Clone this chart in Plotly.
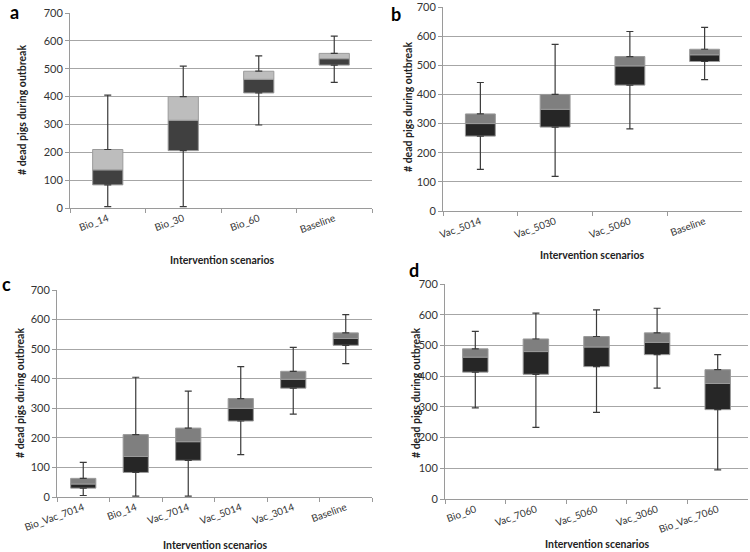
import plotly.graph_objects as go

# ---- data ----
a_cats = ["Bio_14", "Bio_30", "Bio_60", "Baseline"]
a_min = [5, 5, 298, 451]
a_q1 = [83, 206, 413, 513]
a_med = [137, 315, 462, 536]
a_q3 = [210, 400, 491, 555]
a_max = [405, 509, 546, 617]

b_cats = ["Vac_5014", "Vac_5030", "Vac_5060", "Baseline"]
b_min = [143, 119, 282, 451]
b_q1 = [257, 288, 432, 513]
b_med = [300, 349, 498, 536]
b_q3 = [333, 400, 530, 555]
b_max = [441, 572, 616, 630]

c_cats = ["Bio_Vac_7014", "Bio_14", "Vac_7014", "Vac_5014", "Vac_3014", "Baseline"]
c_min = [5, 3, 3, 143, 280, 451]
c_q1 = [30, 83, 124, 257, 368, 513]
c_med = [44, 137, 187, 300, 398, 536]
c_q3 = [63, 211, 233, 333, 425, 555]
c_max = [117, 405, 358, 441, 506, 617]

d_cats = ["Bio_60", "Vac_7060", "Vac_5060", "Vac_3060", "Bio_Vac_7060"]
d_min = [297, 233, 282, 361, 95]
d_q1 = [413, 406, 431, 470, 291]
d_med = [462, 480, 495, 510, 376]
d_q3 = [489, 521, 529, 541, 421]
d_max = [546, 605, 616, 621, 470]

y_ticks = [0, 100, 200, 300, 400, 500, 600, 700]

FONT = "Lato, 'Open Sans', sans-serif"
W, H = 750, 552


def px(sx):
    return sx / W


def py(sy):
    return 1 - sy / H


fig = go.Figure()

panels = [
    dict(cats=a_cats, mn=a_min, q1=a_q1, md=a_med, q3=a_q3, mx=a_max,
         dark="#404040", light="#bdbdbd", width=0.4,
         xd=[px(70), px(372)], yd=[py(208), py(13)]),
    dict(cats=b_cats, mn=b_min, q1=b_q1, md=b_med, q3=b_q3, mx=b_max,
         dark="#262626", light="#7f7f7f", width=0.4,
         xd=[px(443), px(742)], yd=[py(211), py(7)]),
    dict(cats=c_cats, mn=c_min, q1=c_q1, md=c_med, q3=c_q3, mx=c_max,
         dark="#262626", light="#7f7f7f", width=0.48,
         xd=[px(57), px(372)], yd=[py(497), py(290)]),
    dict(cats=d_cats, mn=d_min, q1=d_q1, md=d_med, q3=d_q3, mx=d_max,
         dark="#262626", light="#7f7f7f", width=0.42,
         xd=[px(445), px(748)], yd=[py(499), py(284)]),
]

layout_axes = {}
for i, p in enumerate(panels):
    n = i + 1
    xa = "x" if n == 1 else f"x{n}"
    ya = "y" if n == 1 else f"y{n}"
    lower = [m - q for m, q in zip(p["md"], p["q1"])]
    upper = [q - m for q, m in zip(p["q3"], p["md"])]
    fig.add_trace(go.Bar(x=p["cats"], y=lower, base=p["q1"], width=p["width"],
                         marker=dict(color=p["dark"], line=dict(color="#9a9a9a", width=1)),
                         xaxis=xa, yaxis=ya, showlegend=False, hoverinfo="skip"))
    fig.add_trace(go.Bar(x=p["cats"], y=upper, base=p["md"], width=p["width"],
                         marker=dict(color=p["light"], line=dict(color="#9a9a9a", width=1)),
                         xaxis=xa, yaxis=ya, showlegend=False, hoverinfo="skip"))
    # upper whiskers
    fig.add_trace(go.Scatter(x=p["cats"], y=p["q3"], mode="markers",
                             marker=dict(size=1, opacity=0),
                             error_y=dict(type="data", symmetric=False,
                                          array=[mx - q for mx, q in zip(p["mx"], p["q3"])],
                                          arrayminus=[0]*len(p["cats"]),
                                          color="#3a3a3a", thickness=1.2, width=3.5),
                             xaxis=xa, yaxis=ya, showlegend=False, hoverinfo="skip"))
    # lower whiskers
    fig.add_trace(go.Scatter(x=p["cats"], y=p["q1"], mode="markers",
                             marker=dict(size=1, opacity=0),
                             error_y=dict(type="data", symmetric=False,
                                          array=[0]*len(p["cats"]),
                                          arrayminus=[q - mn for q, mn in zip(p["q1"], p["mn"])],
                                          color="#3a3a3a", thickness=1.2, width=3.5),
                             xaxis=xa, yaxis=ya, showlegend=False, hoverinfo="skip"))
    xkey = "xaxis" if n == 1 else f"xaxis{n}"
    ykey = "yaxis" if n == 1 else f"yaxis{n}"
    layout_axes[xkey] = dict(domain=p["xd"], anchor=ya, type="category", automargin=False,
                             tickson="boundaries", ticks="outside", ticklen=4,
                             tickcolor="#9a9a9a", showline=True, linecolor="#9a9a9a",
                             showgrid=False, tickangle=-20, range=[-0.5, len(p["cats"]) - 0.5],
                             tickfont=dict(family=FONT, size=10, color="#333333"))
    layout_axes[ykey] = dict(domain=p["yd"], anchor=xa, range=[0, 700], automargin=False,
                             tickvals=y_ticks, ticks="outside", ticklen=4,
                             ticklabeloverflow="allow",
                             tickcolor="#9a9a9a", showline=True, linecolor="#9a9a9a",
                             showgrid=True, gridcolor="#a6a6a6", gridwidth=1,
                             zeroline=False,
                             tickfont=dict(family=FONT, size=11, color="#333333"))

annotations = []
# panel letters
for txt, x, y in [("a", 14, 12), ("b", 396, 14), ("c", 6, 284), ("d", 414, 270)]:
    annotations.append(dict(text=f"<b>{txt}</b>", x=px(x), y=py(y), xref="paper", yref="paper",
                            showarrow=False, xanchor="center", yanchor="middle",
                            font=dict(family=FONT, size=18, color="#000000")))
# x titles
for x, y in [(222, 260), (592, 255), (215, 545), (597, 544)]:
    annotations.append(dict(text="<b>Intervention scenarios</b>", x=px(x), y=py(y),
                            xref="paper", yref="paper", showarrow=False,
                            xanchor="center", yanchor="middle",
                            font=dict(family=FONT, size=10.5, color="#222222")))
# y titles
for x, y in [(22, 110), (408, 107), (20, 393), (416, 393)]:
    annotations.append(dict(text="<b># dead pigs during outbreak</b>", x=px(x), y=py(y),
                            xref="paper", yref="paper", showarrow=False, textangle=-90,
                            xanchor="center", yanchor="middle",
                            font=dict(family=FONT, size=10.5, color="#222222")))

fig.update_layout(width=W, height=H, margin=dict(l=0, r=0, t=0, b=0),
                  plot_bgcolor="white", paper_bgcolor="white", barmode="overlay",
                  annotations=annotations, **layout_axes)

fig.write_html("out.html", config={"displayModeBar": False},
               post_script="document.body.style.margin='0';document.body.style.overflow='hidden';")
